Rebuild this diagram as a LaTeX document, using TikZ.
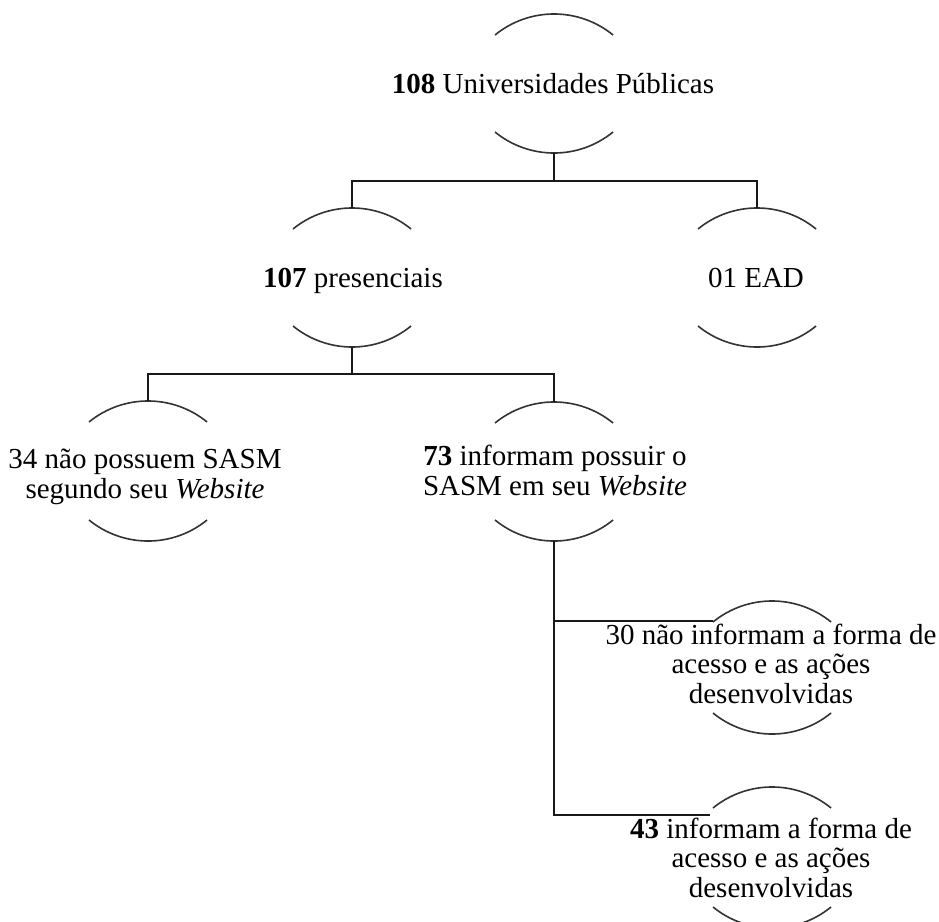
\documentclass[tikz,border=0pt]{standalone}
\usepackage{fontspec}
\setmainfont{Liberation Serif}
\tikzset{
  lbl/.style={anchor=base, align=center, inner sep=0pt, font=\fontsize{14.5pt}{14.75pt}\selectfont},
  arcline/.style={draw=black!80, line width=0.8pt},
  conn/.style={draw=black!90, line width=0.9pt},
}
\newcommand\ndarcs[4]{% name, cx, ytop, ybot
  \draw[arcline] (#2-59,-#3) arc[start angle=129.2,end angle=50.8,radius=93.4];
  \draw[arcline] (#2-59,-#4) arc[start angle=230.8,end angle=309.2,radius=93.4];
  \coordinate (#1-top) at (#2,-#3+21);
  \coordinate (#1-bot) at (#2,-#4-21);
  \coordinate (#1-left) at (#2-59,-#3);
}
\begin{document}
\begin{tikzpicture}[x=0.5pt,y=0.5pt]
\useasboundingbox (0,0) rectangle (939,-922);
\clip (0,0) rectangle (939,-922);
% text nodes (anchor base = baseline of last line)
\node[lbl] (n1) at (553,-93) {\textbf{108} Universidades Públicas};
\node[lbl] (n2) at (353,-287) {\textbf{107} presenciais};
\node[lbl] (n3) at (756,-287) {01 EAD};
\node[lbl] (n4) at (145,-498) {34 não possuem SASM\\segundo seu \textit{Website}};
\node[lbl] (n5) at (555,-495) {\textbf{73} informam possuir o\\SASM em seu \textit{Website}};
\node[lbl] (n6) at (771,-703) {30 não informam a forma de\\acesso e as ações\\desenvolvidas};
\node[lbl] (n7) at (771,-897) {\textbf{43} informam a forma de\\acesso e as ações\\desenvolvidas};
% arcs
\ndarcs{n1}{554}{35}{132}
\ndarcs{n2}{352}{229}{326}
\ndarcs{n3}{757}{229}{326}
\ndarcs{n4}{148}{422}{520}
\ndarcs{n5}{554}{423}{520}
\ndarcs{n6}{772}{622}{713}
\ndarcs{n7}{772}{808}{907}
% junctions
\coordinate (j1) at (554,-181);
\coordinate (j2) at (352,-374);
\coordinate (t1) at (554,-621);
\coordinate (t2) at (554,-815);
\coordinate (e7) at (710,-815);
% connectors
\draw[conn] (n1-bot) -- (j1);
\draw[conn] (n2-top) |- (j1) -| (n3-top);
\draw[conn] (n2-bot) -- (j2);
\draw[conn] (n4-top) |- (j2) -| (n5-top);
\draw[conn] (n5-bot) -- (t2) -- (e7);
\draw[conn] (t1) -- (n6-left |- t1);
\end{tikzpicture}
\end{document}
